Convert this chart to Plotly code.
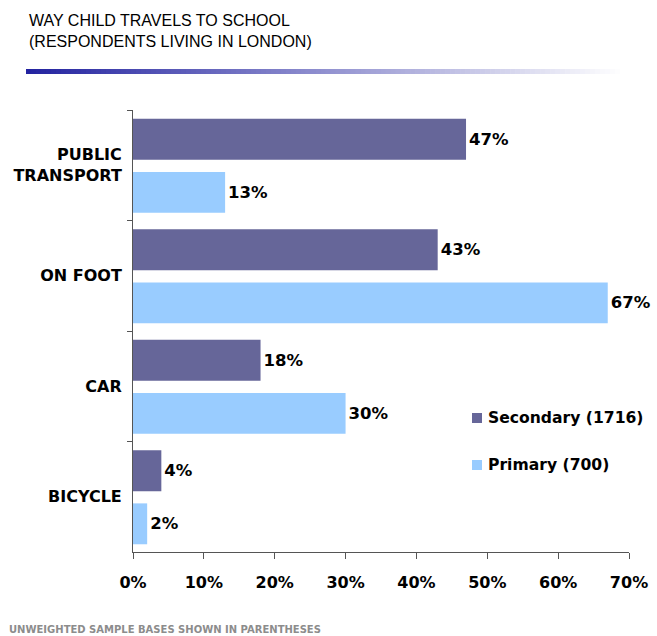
import plotly.graph_objects as go

# Data
categories = ["PUBLIC<br>TRANSPORT", "ON FOOT", "CAR", "BICYCLE"]
secondary_vals = [47, 43, 18, 4]
primary_vals = [13, 67, 30, 2]
series_names = ["Secondary (1716)", "Primary (700)"]
series_colors = ["#666699", "#99CCFF"]
x_ticks = [0, 10, 20, 30, 40, 50, 60, 70]

W, H = 657, 636
L, R, T, B = 133, 28, 110, 84
PW, PH = W - L - R, H - T - B


def px(xp):
    return (xp - L) / PW


def py(yp):
    return (H - B - yp) / PH


BOLD = "DejaVu Sans, Verdana, sans-serif"
ARIAL = "Liberation Sans, Arial, sans-serif"

fig = go.Figure()
for name, vals, col, off in [
    (series_names[0], secondary_vals, series_colors[0], -0.42),
    (series_names[1], primary_vals, series_colors[1], 0.06),
]:
    fig.add_trace(go.Bar(
        y=categories, x=vals, name=name, orientation="h",
        marker=dict(color=col, line=dict(width=0)),
        offset=off, width=0.37,
        text=[f"{v}%" for v in vals], textposition="outside",
        textfont=dict(family=BOLD, size=16.5, color="black", weight="bold"),
        cliponaxis=False, showlegend=False,
    ))

fig.update_layout(
    width=W, height=H, autosize=False,
    margin=dict(l=L, r=R, t=T, b=B, pad=0),
    paper_bgcolor="white", plot_bgcolor="white",
    barmode="overlay",
    xaxis=dict(
        range=[0, 70], tickvals=x_ticks, ticktext=[f"{v}%" for v in x_ticks],
        showgrid=False, zeroline=False, automargin=False,
        showline=True, linecolor="#555555", linewidth=1,
        ticks="outside", ticklen=6, tickcolor="#555555",
        tickfont=dict(family=BOLD, size=16, color="black", weight="bold"),
        ticklabelstandoff=10,
    ),
    yaxis=dict(
        type="category", categoryorder="array", categoryarray=categories,
        range=[3.5, -0.5], tickson="boundaries",
        showgrid=False, zeroline=False, automargin=False,
        showline=True, linecolor="#555555", linewidth=1,
        ticks="outside", ticklen=5, tickcolor="#555555",
        tickfont=dict(family=BOLD, size=16, color="black", weight="bold"),
        ticklabelstandoff=7,
    ),
)

# Title
title_font = dict(family=ARIAL, size=16, color="black")
for text, yc in [("WAY CHILD TRAVELS TO SCHOOL", 20), ("(RESPONDENTS LIVING IN LONDON)", 41)]:
    fig.add_annotation(text=text, xref="paper", yref="paper", x=px(27), y=py(yc),
                       xanchor="left", yanchor="middle", showarrow=False, font=title_font)

# Gradient rule under the title
x0, x1, n = 26, 625, 120
c0 = (35, 35, 160)
for i in range(n):
    t = i / (n - 1)
    c = tuple(int(round(c0[k] + (255 - c0[k]) * t)) for k in range(3))
    xa = x0 + (x1 - x0) * i / n
    xb = x0 + (x1 - x0) * (i + 1) / n + 0.6
    fig.add_shape(type="rect", xref="paper", yref="paper",
                  x0=px(xa), x1=px(xb), y0=py(74), y1=py(69),
                  fillcolor=f"rgb{c}", line=dict(width=0), layer="above")

# Legend
for name, col, yc in zip(series_names, series_colors, [418, 465]):
    fig.add_shape(type="rect", xref="paper", yref="paper",
                  x0=px(472), x1=px(482), y0=py(yc + 5), y1=py(yc - 5),
                  fillcolor=col, line=dict(width=0))
    fig.add_annotation(text=name, xref="paper", yref="paper", x=px(486), y=py(yc),
                       xanchor="left", yanchor="middle", showarrow=False,
                       font=dict(family=BOLD, size=15.6, color="black", weight="bold"))

# Footnote
fig.add_annotation(text="UNWEIGHTED SAMPLE BASES SHOWN IN PARENTHESES",
                   xref="paper", yref="paper", x=px(7), y=py(629),
                   xanchor="left", yanchor="middle", showarrow=False,
                   font=dict(family=BOLD, size=10, color="#8c8c8c", weight="bold"))

fig.write_html("out.html")
